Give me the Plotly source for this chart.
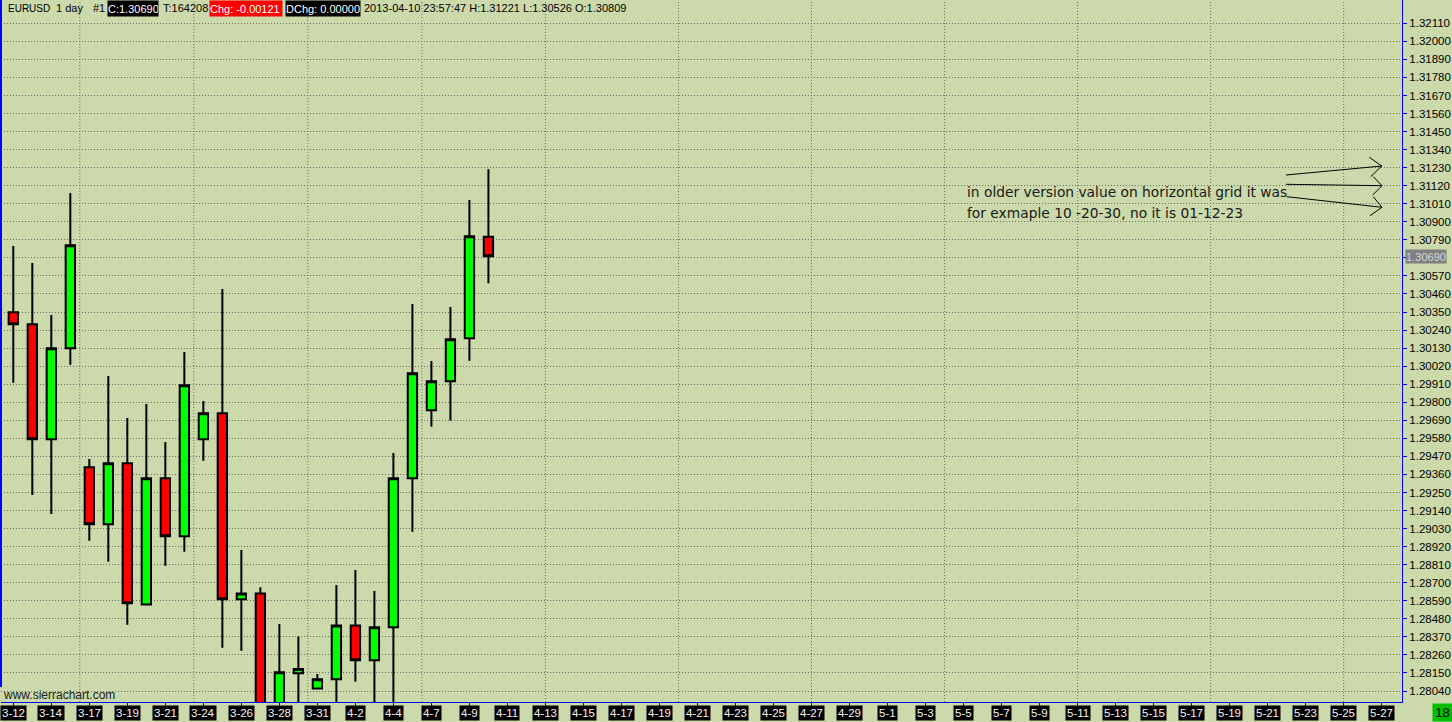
import datetime as dt
import plotly.graph_objects as go

# ---------------- data ----------------
dates = ["2013-03-12", "2013-03-13", "2013-03-14", "2013-03-15", "2013-03-17", "2013-03-18",
         "2013-03-19", "2013-03-20", "2013-03-21", "2013-03-22", "2013-03-24", "2013-03-25",
         "2013-03-26", "2013-03-27", "2013-03-28", "2013-03-29", "2013-03-31", "2013-04-01",
         "2013-04-02", "2013-04-03", "2013-04-04", "2013-04-05", "2013-04-07", "2013-04-08",
         "2013-04-09", "2013-04-10"]
opens = [1.30348, 1.30275, 1.29574, 1.30129, 1.29404, 1.29056, 1.29428, 1.28568, 1.29337, 1.28983,
         1.29574, 1.29733, 1.28599, 1.28635, 1.27770, 1.28148, 1.28056, 1.28111, 1.28440, 1.28227,
         1.28428, 1.29337, 1.29751, 1.29928, 1.30190, 1.30809]
highs = [1.30752, 1.30649, 1.30332, 1.31076, 1.29454, 1.29960, 1.29704, 1.29789, 1.29558, 1.30106,
         1.29808, 1.30490, 1.28899, 1.28672, 1.28448, 1.28373, 1.28144, 1.28686, 1.28778, 1.28650,
         1.29491, 1.30399, 1.30051, 1.30381, 1.31033, 1.31221]
lows = [1.29919, 1.29235, 1.29119, 1.30029, 1.28956, 1.28828, 1.28444, 1.28568, 1.28804, 1.28889,
        1.29444, 1.28304, 1.28286, 1.27500, 1.27520, 1.27800, 1.28050, 1.27850, 1.28097, 1.27900,
        1.27460, 1.29011, 1.29651, 1.29689, 1.30053, 1.30526]
closes = [1.30275, 1.29574, 1.30129, 1.30757, 1.29056, 1.29428, 1.28575, 1.29337, 1.28983, 1.29903,
          1.29733, 1.28599, 1.28635, 1.27770, 1.28154, 1.28174, 1.28111, 1.28440, 1.28227, 1.28428,
          1.29337, 1.29977, 1.29928, 1.30184, 1.30812, 1.30690]

x_tick_labels = ["3-12", "3-14", "3-17", "3-19", "3-21", "3-24", "3-26", "3-28", "3-31", "4-2",
                 "4-4", "4-7", "4-9", "4-11", "4-13", "4-15", "4-17", "4-19", "4-21", "4-23",
                 "4-25", "4-27", "4-29", "5-1", "5-3", "5-5", "5-7", "5-9", "5-11", "5-13",
                 "5-15", "5-17", "5-19", "5-21", "5-23", "5-25", "5-27"]

y_tick_labels = ["1.32110", "1.32000", "1.31890", "1.31780", "1.31670", "1.31560", "1.31450",
                 "1.31340", "1.31230", "1.31120", "1.31010", "1.30900", "1.30790", "1.30680",
                 "1.30570", "1.30460", "1.30350", "1.30240", "1.30130", "1.30020", "1.29910",
                 "1.29800", "1.29690", "1.29580", "1.29470", "1.29360", "1.29250", "1.29140",
                 "1.29030", "1.28920", "1.28810", "1.28700", "1.28590", "1.28480", "1.28370",
                 "1.28260", "1.28150", "1.28040"]

symbol = "EURUSD"
timeframe = "1 day"
last_close = 1.30690

# ---------------- geometry helpers ----------------
W, H = 1452, 722
ML, MR, MT, MB = 1, 50, 0, 20
PW, PH = W - ML - MR, H - MT - MB


def px_x(px):
    return (px - ML) / PW


def px_y(py):
    return (MT + PH - py) / PH


BG = "#CBD9AB"
FONT = "Liberation Sans, Arial, sans-serif"
FONT2 = "DejaVu Sans, Verdana, sans-serif"

xs = list(range(len(dates)))

fig = go.Figure()
fig.add_trace(go.Candlestick(
    x=xs, open=opens, high=highs, low=lows, close=closes,
    increasing=dict(fillcolor="#00FF00", line=dict(color="black", width=2)),
    decreasing=dict(fillcolor="#FF0000", line=dict(color="black", width=2)),
    whiskerwidth=0, hoverinfo="skip", showlegend=False,
))

# y ticks
y_vals = [float(v) for v in y_tick_labels]
y_text = ["" if abs(v - last_close) < 0.0002 else t for v, t in zip(y_vals, y_tick_labels)]

# x tick positions (every second bar slot)
x_vals = [2 * i for i in range(len(x_tick_labels))]

# weekly separators (Saturday boundaries)
d0 = [dt.date.fromisoformat(d) for d in dates]
week_lines = []
for i in range(1, len(d0)):
    if (d0[i] - d0[i - 1]).days > 1:
        week_lines.append(i - 0.5)
last_idx = len(d0) - 1
for k in range(1, 60):
    day = d0[-1] + dt.timedelta(days=k)
    idx = last_idx + k
    if idx > 73:
        break
    if day.weekday() == 5:
        week_lines.append(idx)

shapes = []
for wl in week_lines:
    shapes.append(dict(type="line", xref="x", yref="paper", x0=wl, x1=wl, y0=0, y1=1,
                       line=dict(color="#6A6A6A", width=1, dash="1px,2px"), layer="below"))

# left border
shapes.append(dict(type="line", xref="paper", yref="paper", x0=0, x1=0, y0=px_y(687), y1=1,
                   line=dict(color="#0000FF", width=2)))

# hand drawn arrows
arrow_paths = [
    [(1286, 175), (1382, 166)],
    [(1286, 184.3), (1382, 185.7)],
    [(1286.7, 196.7), (1382, 207.3)],
    [(1369.3, 157.3), (1381.7, 166), (1370.7, 176.7)],
    [(1373.3, 176.7), (1382, 185.7), (1372.7, 195)],
    [(1373.3, 196.7), (1382, 207.3), (1370, 215.7)],
]
for pts in arrow_paths:
    p = "M " + " L ".join(f"{px_x(a):.5f},{px_y(b):.5f}" for a, b in pts)
    shapes.append(dict(type="path", xref="paper", yref="paper", path=p,
                       line=dict(color="black", width=1)))

ann = []
# x tick label boxes
for xv, lab in zip(x_vals, x_tick_labels):
    ann.append(dict(x=xv, y=px_y(713), xref="x", yref="paper", text=lab, showarrow=False,
                    xanchor="center", yanchor="middle", bgcolor="black", borderpad=1,
                    font=dict(family=FONT, size=11.5, color="#F2F2F2")))

# header
hy = px_y(8)
hdr = [
    (7, symbol, None, None, 10),
    (55, timeframe, None, None, 11),
    (92, "#1", None, None, 11),
    (107, "C:1.30690", "black", 50, 11),
    (162, "T:164208", None, None, 11),
    (209, "Chg: -0.00121", "#FF0000", 72, 11),
    (285, "DChg: 0.00000", "black", 74, 11),
    (363, "2013-04-10 23:57:47 H:1.31221 L:1.30526 O:1.30809", None, None, 11),
]
for x0, txt, bg, w, fs in hdr:
    a = dict(x=px_x(x0), y=hy, xref="paper", yref="paper", text=txt, showarrow=False,
             xanchor="left", yanchor="middle", borderpad=0,
             font=dict(family=FONT, size=fs, color="white" if bg else "black"))
    if bg:
        a.update(bgcolor=bg, width=w, height=15, align="left")
    ann.append(a)

# comment text
ann.append(dict(x=px_x(965), y=px_y(192), xref="paper", yref="paper",
                text="in older version value on horizontal grid it was", showarrow=False,
                xanchor="left", yanchor="middle", font=dict(family=FONT2, size=13.8, color="#1A1A1A")))
ann.append(dict(x=px_x(965), y=px_y(213), xref="paper", yref="paper",
                text="for exmaple 10 -20-30, no it is 01-12-23", showarrow=False,
                xanchor="left", yanchor="middle", font=dict(family=FONT2, size=13.8, color="#1A1A1A")))

# current price label
ann.append(dict(x=px_x(1405), y=last_close, xref="paper", yref="y", text=f"{last_close:.5f}",
                showarrow=False, xanchor="left", yanchor="middle", bgcolor="#808080", borderpad=0,
                width=40, height=13, font=dict(family=FONT, size=11, color="#D8D8D8")))

# watermark
ann.append(dict(x=px_x(1), y=px_y(695), xref="paper", yref="paper", text="www.sierrachart.com",
                showarrow=False, xanchor="left", yanchor="middle",
                font=dict(family=FONT, size=12, color="#202020")))

# bar counter
ann.append(dict(x=px_x(1432), y=px_y(712), xref="paper", yref="paper", text="18", showarrow=False,
                xanchor="left", yanchor="middle", bgcolor="#00C000", borderpad=0, width=19, height=17,
                font=dict(family=FONT, size=13, color="black")))

fig.update_layout(
    width=W, height=H, autosize=False,
    margin=dict(l=ML, r=MR, t=MT, b=MB, pad=0),
    paper_bgcolor=BG, plot_bgcolor=BG,
    showlegend=False,
    shapes=shapes, annotations=ann,
    xaxis=dict(range=[(ML - 13.3) / 19.005, (ML + PW - 13.3) / 19.005], rangeslider=dict(visible=False),
               showgrid=False, zeroline=False, showline=True, linecolor="#0000FF", linewidth=1,
               tickmode="array", tickvals=x_vals, ticktext=[""] * len(x_vals),
               ticks="outside", ticklen=3, tickcolor="#0000FF", fixedrange=True),
    yaxis=dict(range=[1.27973, 1.32252], side="right", tickmode="array", tickvals=y_vals,
               ticktext=y_text, showgrid=True, gridcolor="#6A6A6A", gridwidth=1, griddash="1px,2px",
               zeroline=False, showline=True, mirror=False, linecolor="#0000FF", linewidth=1,
               ticks="outside", ticklen=4, tickcolor="#0000FF",
               tickfont=dict(family=FONT, size=11.5, color="black"), fixedrange=True),
)

fig.write_html("out.html", config={"displayModeBar": False},
               post_script="document.body.style.margin='0';document.body.style.overflow='hidden';")
